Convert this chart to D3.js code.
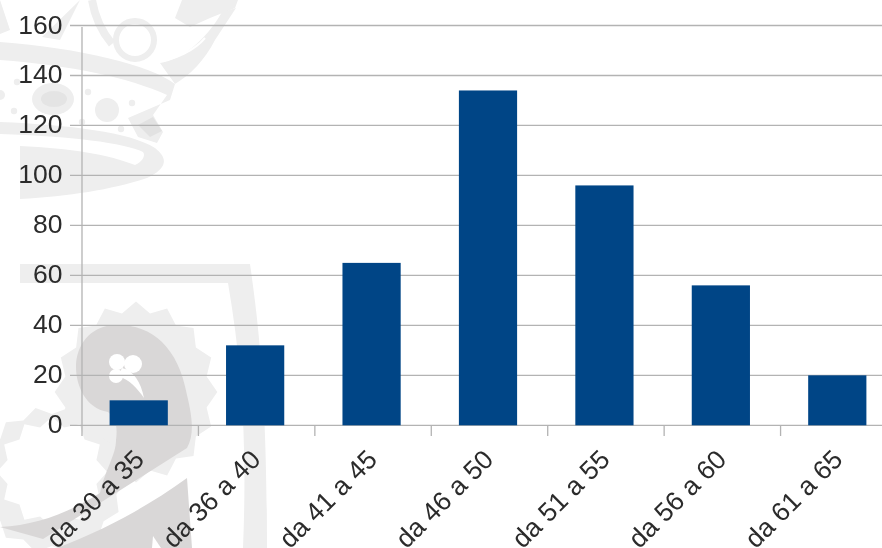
<!DOCTYPE html>
<html>
<head>
<meta charset="utf-8">
<script src="https://d3js.org/d3.v7.min.js"></script>
<style>
    body { margin: 0; background: white; }
    svg { display: block; filter: blur(0.45px); }
    text { font-family: "Liberation Sans", sans-serif; font-size: 26.5px; fill: #2b2b2b; }
    .grid { stroke: #b3b3b3; stroke-width: 1.3px; }
    .wm { fill: #eeeeee; stroke: none; }
    .wmline { fill: none; stroke: #eeeeee; }
    .wmdark { fill: #d9d7d7; stroke: none; }
</style>
</head>
<body>
<div id="chart"></div>
<script>
    var categories = ["da 30 a 35", "da 36 a 40", "da 41 a 45", "da 46 a 50", "da 51 a 55", "da 56 a 60", "da 61 a 65"];
    var counts = [10, 32, 65, 134, 96, 56, 20];
    var yTicks = [0, 20, 40, 60, 80, 100, 120, 140, 160];

    var svg = d3.select("#chart").append("svg").attr("width", 882).attr("height", 548);

    // spiky outline for the watermark suns
    function sun(cx, cy, rx, ry, n, spike) {
        var pts = d3.range(0, n * 2).map(function (i) {
            var a = i / (n * 2) * 2 * Math.PI, k = i % 2 ? 1 : 1 + spike;
            return [cx + rx * k * Math.cos(a), cy + ry * k * Math.sin(a)];
        });
        return d3.line()(pts) + "Z";
    }

    // watermark behind the chart, traced by eye
    var wm = svg.append("g");

    // crown, upper band and the jewel on its end
    wm.append("path").attr("class", "wm")
        .attr("d", "M0,42 C80,48 150,65 175,84 L170,100 L128,118 L138,137 L157,143 L163,132 L153,115 L167,95 C130,78 70,65 0,60 Z");
    wm.append("path").attr("fill", "#e2e2e2").attr("d", "M138,125 L153,117 L162,131 L150,137 Z");
    // crown, lower band
    wm.append("path").attr("class", "wm")
        .attr("d", "M0,122 C70,125 130,132 155,148 C168,158 168,168 147,178 C110,190 70,196 20,199 L20,146 L0,146 Z");
    wm.append("path").attr("fill", "white")
        .attr("d", "M0,134 L0,146 L20,146 C70,148 110,155 135,165 C142,162 146,156 143,152 C125,143 70,136 0,134 Z");
    // top ornaments
    wm.append("circle").attr("class", "wmline").attr("stroke-width", 6).attr("cx", 135).attr("cy", 40).attr("r", 19);
    wm.append("path").attr("class", "wmline").attr("stroke-width", 8)
        .attr("d", "M92,0 C95,18 102,32 112,44");
    wm.append("path").attr("class", "wm").attr("d", "M80,0 L42,37 L90,45 L60,40 Z");
    wm.append("path").attr("class", "wm")
        .attr("d", "M160,63 C180,60 205,42 222,12 L236,8 L215,40 C205,60 190,75 175,84 Z");
    wm.append("path").attr("class", "wm")
        .attr("d", "M182,0 L175,18 L190,27 L210,18 L235,8 L238,0 Z");
    wm.append("path").attr("class", "wm").attr("d", "M0,0 L10,30 L0,34 Z");
    wm.append("path").attr("fill", "none").attr("stroke", "white").attr("stroke-width", 2)
        .attr("d", "M155,62 C175,60 195,50 205,38");
    wm.append("ellipse").attr("class", "wm").attr("cx", 53).attr("cy", 99).attr("rx", 21).attr("ry", 16);
    wm.append("ellipse").attr("fill", "#e4e4e4").attr("cx", 54).attr("cy", 99).attr("rx", 13).attr("ry", 8);
    wm.append("circle").attr("class", "wm").attr("cx", 0).attr("cy", 95).attr("r", 5);
    wm.append("circle").attr("class", "wm").attr("cx", 107).attr("cy", 110).attr("r", 12);
    [[88, 92], [132, 103], [121, 129], [82, 122], [14, 111], [17, 82]].forEach(function (p) {
        wm.append("circle").attr("class", "wm").attr("cx", p[0]).attr("cy", p[1]).attr("r", 3.2);
    });

    // frame band of the crest
    wm.append("path").attr("class", "wm")
        .attr("d", "M20,264 L250,264 C258,320 267,390 267,548 L243,548 C247,450 243,370 228,283 L20,283 Z");

    // suns
    wm.append("path").attr("class", "wm").attr("d", sun(136, 392, 72, 80, 16, 0.13));
    wm.append("path").attr("class", "wm").attr("d", sun(52, 480, 66, 66, 14, 0.12));
    wm.append("path").attr("fill", "white").attr("d", sun(52, 472, 46, 46, 12, 0.2));

    // paisley body and its tail
    wm.append("path").attr("class", "wmdark")
        .attr("d", "M113,325 C150,323 178,345 187,395 C193,420 194,435 187,448 L43,539 L0,527 C35,525 65,515 100,493 C105,470 116,455 116,440 C118,425 115,418 108,412 C85,408 76,385 76,367 C76,345 90,327 113,325 Z");
    wm.append("path").attr("class", "wmdark")
        .attr("d", "M187,478 C150,505 105,530 57,548 L192,548 Z");
    wm.append("path").attr("fill", "white").attr("d", "M152,548 L153,536 L161,548 Z");
    // clover in the paisley
    var clover = wm.append("g").attr("fill", "white");
    [[117, 362, 8], [133, 364, 9], [116, 376, 7]].forEach(function (c) {
        clover.append("circle").attr("cx", c[0]).attr("cy", c[1]).attr("r", c[2]);
    });
    clover.append("path").attr("d", "M122,368 C133,370 141,382 144,398 C137,388 130,380 118,376 Z");

    var x = d3.scaleBand().domain(categories).range([80.5, 895.5]).paddingInner(0.5).paddingOuter(0.25);
    var xTick = d3.scaleBand().domain(categories).range([82, 897]);
    var y = d3.scaleLinear().domain([0, 160]).range([425.3, 25.5]);

    var grid = svg.append("g");
    grid.selectAll("line").data(yTicks).enter().append("line")
        .attr("class", "grid")
        .attr("x1", 70).attr("x2", 882)
        .attr("y1", function (d) { return y(d); })
        .attr("y2", function (d) { return y(d); });

    // y axis line and category ticks
    grid.append("line").attr("class", "grid").attr("x1", 82).attr("x2", 82).attr("y1", 27).attr("y2", 436);
    grid.selectAll(".xt").data(categories.slice(1)).enter().append("line")
        .attr("class", "grid xt")
        .attr("x1", function (d) { return xTick(d); })
        .attr("x2", function (d) { return xTick(d); })
        .attr("y1", 425).attr("y2", 436);

    svg.append("g").selectAll("rect").data(counts).enter().append("rect")
        .attr("x", function (d, i) { return x(categories[i]); })
        .attr("width", x.bandwidth())
        .attr("y", function (d) { return y(d); })
        .attr("height", function (d) { return y(0) - y(d); })
        .attr("fill", "#004586");

    svg.append("g").selectAll("text").data(yTicks).enter().append("text")
        .attr("x", 62.5)
        .attr("y", function (d) { return y(d) + 8; })
        .attr("text-anchor", "end")
        .text(function (d) { return d; });

    svg.append("g").selectAll("text").data(categories).enter().append("text")
        .attr("text-anchor", "end")
        .attr("transform", function (d) {
            return "translate(" + (x(d) + x.bandwidth() / 2 + 7) + ",461) rotate(-45)";
        })
        .text(function (d) { return d; });
</script>
</body>
</html>
